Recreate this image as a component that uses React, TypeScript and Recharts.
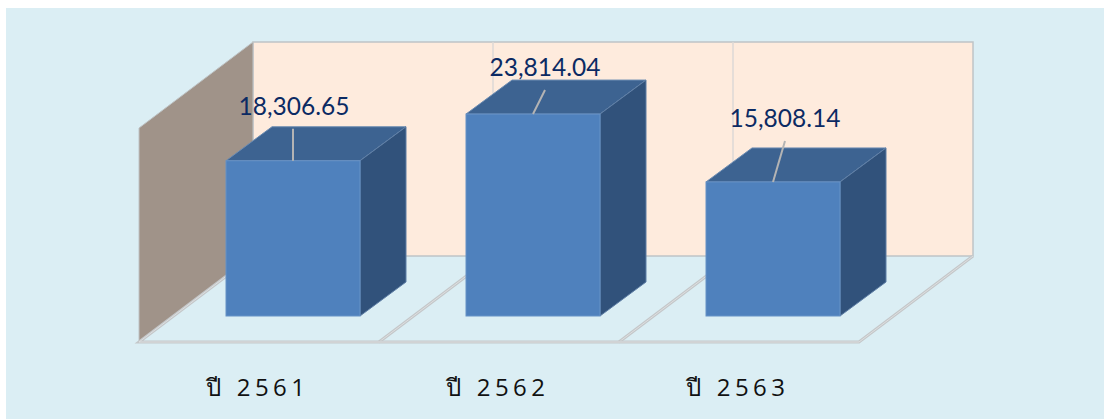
import { BarChart, Bar, XAxis, YAxis, LabelList, Customized, usePlotArea } from "recharts";

const categories = ["ปี 2561", "ปี 2562", "ปี 2563"];
const budgetValues = [18306.65, 23814.04, 15808.14];

const data = categories.map((year, i) => ({ year, budget: budgetValues[i] }));

// how far each data label sits from the top centre of its bar
const labelShiftX = [1, 12, 12];
const labelShiftY = [-46, -38, -55];
const leaderTipX = [0, 12, 12];
const leaderTipY = [-32, -24, -41];

// fake 3D projection
const BAR_DX = 46;
const BAR_DY = 34;
const WALL_TOP = 42;
const WALL_DX = 80;
const FLOOR_FRONT_DX = 34;
const FLOOR_FRONT_DY = 26;
const FLOOR_BACK_DY = 60;

function Walls() {
  const plot = usePlotArea();
  if (!plot) return null;
  const band = plot.width / categories.length;
  const bottom = plot.y + plot.height;
  const frontX = plot.x - FLOOR_FRONT_DX;
  const frontY = bottom + FLOOR_FRONT_DY;
  const backX = plot.x + WALL_DX;
  const backY = bottom - FLOOR_BACK_DY;
  const wallHeight = backY - WALL_TOP;
  const backRight = backX + plot.width;
  const frontRight = frontX + plot.width;
  const edge = "#bfc4c6";

  return (
    <g>
      <rect x={backX} y={WALL_TOP} width={plot.width} height={wallHeight} fill="#feebdd" stroke={edge} strokeWidth={1.5} />
      <polygon
        points={`${frontX},${frontY} ${backX},${backY} ${backX},${WALL_TOP} ${frontX},${frontY - wallHeight}`}
        fill="#a09389"
        stroke={edge}
        strokeWidth={1}
      />
      {[1, 2].map((i) => (
        <g key={i}>
          <line x1={backX + band * i} y1={WALL_TOP} x2={backX + band * i} y2={backY} stroke="#dcd9d6" strokeWidth={1.5} />
          <line x1={frontX + band * i} y1={frontY} x2={backX + band * i} y2={backY} stroke="#c4c7c9" strokeWidth={3} />
          <line x1={frontX + band * i} y1={frontY} x2={backX + band * i} y2={backY} stroke="#dddfe0" strokeWidth={1} />
        </g>
      ))}
      <polyline
        points={`${backX},${backY} ${frontX},${frontY} ${frontRight},${frontY} ${backRight},${backY}`}
        fill="none"
        stroke="#c4c7c9"
        strokeWidth={3}
      />
      <polyline
        points={`${backX},${backY} ${frontX},${frontY} ${frontRight},${frontY} ${backRight},${backY}`}
        fill="none"
        stroke="#dddfe0"
        strokeWidth={1}
      />
    </g>
  );
}

function Box3D(props: any) {
  const { x, y, width, height } = props;
  const r = x + width;
  const b = y + height;
  return (
    <g>
      <polygon
        points={`${x},${y} ${x + BAR_DX},${y - BAR_DY} ${r + BAR_DX},${y - BAR_DY} ${r},${y}`}
        fill="#3d6391"
        stroke="#6c8cb2"
        strokeWidth={1}
      />
      <polygon
        points={`${r},${y} ${r + BAR_DX},${y - BAR_DY} ${r + BAR_DX},${b - BAR_DY} ${r},${b}`}
        fill="#31527b"
        stroke="#5f7fa6"
        strokeWidth={1}
      />
      <rect x={x} y={y} width={width} height={height} fill="#4f81bd" stroke="#6792c6" strokeWidth={1} />
    </g>
  );
}

function BarNote(props: any) {
  const { x, y, width, index, value } = props;
  const cx = x + width / 2;
  return (
    <g>
      <line x1={cx} y1={y} x2={cx + leaderTipX[index]} y2={y + leaderTipY[index]} stroke="#b4b4b4" strokeWidth={2} />
      <text
        x={cx + labelShiftX[index]}
        y={y + labelShiftY[index]}
        textAnchor="middle"
        fontFamily="Lato, sans-serif"
        fontSize={24.5}
        fill="#0b2a63"
      >
        {Number(value).toLocaleString("en-US", { minimumFractionDigits: 2 })}
      </text>
    </g>
  );
}

function YearTick(props: any) {
  const { x, y, payload } = props;
  return (
    <text
      x={x - FLOOR_FRONT_DX - 1}
      y={y + 72}
      textAnchor="middle"
      fontFamily="'Open Sans', 'Noto Sans', sans-serif"
      fontSize={24}
      letterSpacing={4.5}
      fill="#111111"
    >
      {payload.value}
    </text>
  );
}

export default function App() {
  return (
    <div style={{ position: "absolute", left: 0, top: 0, width: 1104, height: 419, background: "#ffffff", overflow: "hidden" }}>
      <div style={{ position: "absolute", left: 6, top: 8, right: 0, bottom: 0, background: "#dbeef4" }} />
      <div style={{ position: "absolute", left: 0, top: 0 }}>
        <BarChart
          width={1104}
          height={419}
          data={data}
          margin={{ top: 104, right: 211, bottom: 0, left: 173 }}
          barSize={134}
        >
          <Customized component={Walls} />
          <XAxis dataKey="year" axisLine={false} tickLine={false} tick={YearTick} interval={0} height={103} />
          <YAxis hide domain={[0, 25000]} width={0} />
          <Bar dataKey="budget" shape={Box3D} isAnimationActive={false}>
            <LabelList dataKey="budget" content={BarNote} />
          </Bar>
        </BarChart>
      </div>
    </div>
  );
}
